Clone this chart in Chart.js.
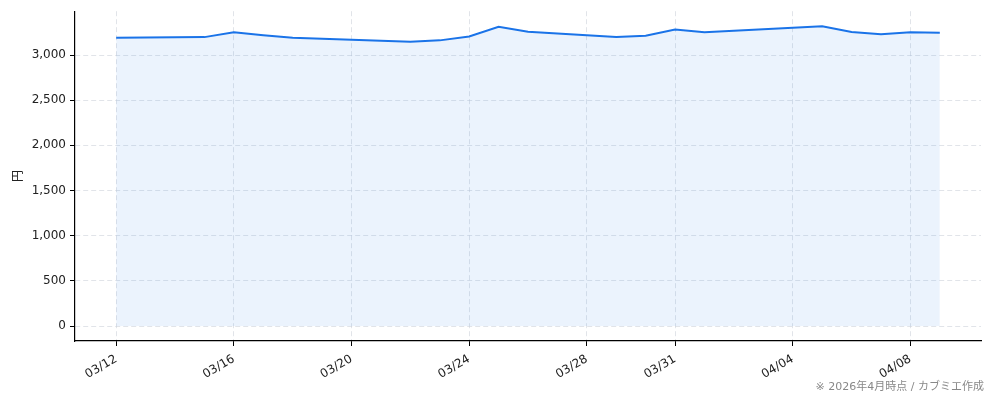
<!DOCTYPE html>
<html>
<head>
<meta charset="utf-8">
<script src="https://cdn.jsdelivr.net/npm/chart.js@4"></script>
<style>
  body { margin: 0; background: #fff; }
  #wrap { position: relative; width: 994px; height: 401px; }
  #note {
    position: absolute; right: 10px; top: 377px;
    font: 11px "DejaVu Sans", "Noto Sans CJK JP", sans-serif; color: #888;
  }
</style>
</head>
<body>
<div id="wrap">
  <canvas id="myChart"></canvas>
  <div id="note">※ 2026年4月時点 / カブミエ作成</div>
</div>
<script>
// 2026 daily closing prices (円)
const dates = ["03/12", "03/15", "03/16", "03/17", "03/18", "03/20", "03/22", "03/23",
  "03/24", "03/25", "03/26", "03/29", "03/30", "03/31", "04/01", "04/05",
  "04/06", "04/07", "04/08", "04/09"];
const prices = [3191, 3198, 3253, 3220, 3191, 3169, 3147, 3162,
  3206, 3312, 3257, 3198, 3213, 3283, 3253, 3319,
  3255, 3230, 3253, 3246];
const tickDates = ["03/12", "03/16", "03/20", "03/24", "03/28", "03/31", "04/04", "04/08"];
const yTicks = [0, 500, 1000, 1500, 2000, 2500, 3000];

const dayOf = (s) => {
  const [m, d] = s.split("/").map(Number);
  return (Date.UTC(2026, m - 1, d) - Date.UTC(2026, 2, 12)) / 86400000;
};
const labelOf = (day) => {
  const dt = new Date(Date.UTC(2026, 2, 12) + day * 86400000);
  const mm = String(dt.getUTCMonth() + 1).padStart(2, "0");
  const dd = String(dt.getUTCDate()).padStart(2, "0");
  return mm + "/" + dd;
};

const points = dates.map((d, i) => ({ x: dayOf(d), y: prices[i] }));
const xFirst = points[0].x;
const xLast = points[points.length - 1].x;
const xPad = (xLast - xFirst) * 0.05;
const yTop = Math.max(...prices);
const yPad = yTop * 0.05;

const font = { family: "'DejaVu Sans', 'Noto Sans CJK JP', sans-serif", size: 12 };
const gridColor = "rgba(200, 205, 215, 0.55)";

const data = {
  datasets: [
    {
      data: points,
      borderColor: "#1a73e8",
      borderWidth: 2,
      backgroundColor: "rgba(26, 115, 232, 0.085)",
      fill: "origin",
      pointRadius: 0,
      tension: 0,
    },
  ],
};

const config = {
  type: "line",
  data: data,
  options: {
    responsive: true,
    maintainAspectRatio: false,
    animation: false,
    layout: { padding: { top: 10, right: 13, left: 0, bottom: 0 } },
    plugins: {
      legend: { display: false },
      tooltip: { enabled: false },
    },
    scales: {
      x: {
        type: "linear",
        min: xFirst - xPad,
        max: xLast + xPad,
        afterBuildTicks: (scale) => {
          scale.ticks = tickDates.map((d) => ({ value: dayOf(d) }));
        },
        afterFit: (scale) => { scale.height = 60; },
        ticks: {
          callback: (v) => labelOf(v),
          minRotation: 30,
          maxRotation: 30,
          autoSkip: false,
          color: "#222",
          font: font,
          padding: 6,
        },
        grid: {
          color: gridColor,
          tickColor: "#000",
          tickLength: 5,
        },
        border: { color: "#000", width: 1.2, dash: [5, 3] },
      },
      y: {
        min: -yPad,
        max: yTop + yPad,
        afterBuildTicks: (scale) => {
          scale.ticks = yTicks.map((v) => ({ value: v }));
        },
        afterFit: (scale) => { scale.width = 75; },
        ticks: {
          callback: (v) => v.toLocaleString("en-US"),
          color: "#222",
          font: font,
          padding: 4,
        },
        grid: {
          color: gridColor,
          tickColor: "#000",
          tickLength: 5,
        },
        border: { color: "#000", width: 1.2, dash: [5, 3] },
        title: {
          display: true,
          text: "円",
          color: "#222",
          font: { family: "'Noto Sans CJK JP', sans-serif", size: 12 },
          padding: { top: 10, bottom: 0 },
        },
      },
    },
  },
};

new Chart(document.getElementById("myChart"), config);
</script>
</body>
</html>
